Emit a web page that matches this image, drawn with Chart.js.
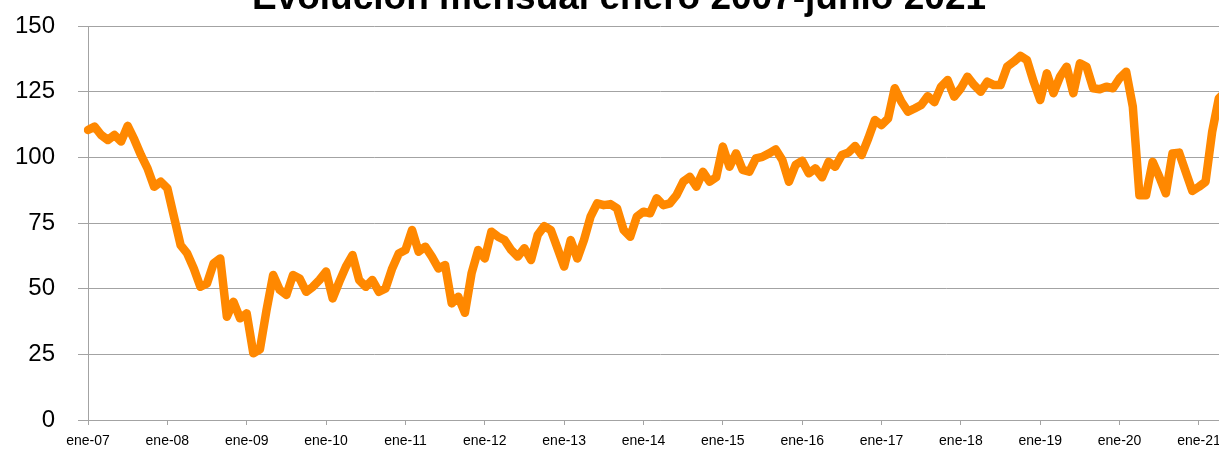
<!DOCTYPE html>
<html>
<head>
<meta charset="utf-8">
<script src="https://cdn.jsdelivr.net/npm/chart.js@4"></script>
<style>
  html, body { margin: 0; padding: 0; background: #fff; overflow: hidden; }
  #wrap { position: absolute; left: 0; top: 0; width: 1232px; height: 450px; }
  #title {
    position: absolute; left: 0; width: 1238px; top: -24px;
    text-align: center; font: bold 37px "Liberation Sans", Arial, sans-serif; color: #000;
    white-space: nowrap;
  }
</style>
</head>
<body>
<div id="wrap"><canvas id="chart"></canvas></div>
<div id="title">Evolución mensual enero 2007-junio 2021</div>
<script>
// meses y años del eje x
const months = ["ene", "feb", "mar", "abr", "may", "jun", "jul", "ago", "sep", "oct", "nov", "dic"];
const years = ["07", "08", "09", "10", "11", "12", "13", "14", "15", "16", "17", "18", "19", "20", "21"];

// valores mensuales
const v2007 = [110.4, 111.7, 108.5, 106.6, 108.5, 106, 112, 106.8, 100.9, 95.8, 88.8, 90.7];
const v2008 = [88.2, 77.4, 66.6, 63.4, 57.7, 50.7, 52, 59.6, 61.5, 39.3, 45, 38.7];
const v2009 = [40.6, 25.4, 26.9, 41.9, 55.2, 49.5, 47.6, 55.2, 53.9, 48.8, 50.7, 53.3];
const v2010 = [56.5, 46.3, 52.6, 58.4, 62.8, 53.3, 50.7, 53.3, 48.8, 50.1, 57.7, 63.4];
const v2011 = [64.7, 72.3, 64.1, 66, 62.2, 57.7, 59, 44.4, 46.9, 40.8, 55.8, 64.7];
const v2012 = [61.5, 71.7, 69.8, 68.5, 64.7, 62.2, 65.4, 60.9, 70.4, 73.8, 72.3, 65.4];
const v2013 = [58.4, 68.5, 61.5, 68.5, 77.4, 82.5, 81.8, 82.2, 80.6, 72.3, 69.8, 77.4];
const v2014 = [79.3, 78.7, 84.4, 81.8, 82.5, 85.6, 90.7, 92.6, 88.8, 94.5, 90.7, 92.4];
const v2015 = [104.1, 96.4, 101.5, 95.2, 94.5, 99.6, 100.2, 101.5, 103, 99, 90.7, 97.1];
const v2016 = [98.7, 93.9, 95.8, 92.4, 98.3, 96.4, 100.9, 101.8, 104.3, 100.9, 107.2, 114.2];
const v2017 = [112.3, 114.8, 126.3, 121.2, 117.4, 118.6, 119.9, 123.3, 121, 126.9, 129.4, 123.1];
const v2018 = [126.3, 130.7, 127.5, 125, 128.8, 127.5, 127.5, 134.5, 136.4, 138.6, 137, 128.8];
const v2019 = [121.8, 132, 124.4, 130.7, 134.5, 124.4, 135.8, 134.5, 126.3, 125.9, 126.9, 126.3];
const v2020 = [130.1, 132.6, 119.3, 85.6, 85.6, 98.3, 92.6, 86.3, 101.5, 101.8, 94.5, 87.2];
const v2021 = [88.8, 90.7, 109.7, 122.4, 125, 127];

const yTicks = [0, 25, 50, 75, 100, 125, 150];

const values = [].concat(v2007, v2008, v2009, v2010, v2011, v2012, v2013, v2014,
  v2015, v2016, v2017, v2018, v2019, v2020, v2021);

let labels = [];
years.forEach(y => months.forEach(m => labels.push(m + "-" + y)));
labels = labels.slice(0, values.length);

const gridColor = "#a3a3a3";

new Chart(document.getElementById("chart"), {
  type: "line",
  data: {
    labels: labels,
    datasets: [{
      data: values,
      borderColor: "#ff8800",
      borderWidth: 8.5,
      borderJoinStyle: "round",
      borderCapStyle: "round",
      pointRadius: 0,
      tension: 0,
      fill: false
    }]
  },
  options: {
    responsive: true,
    maintainAspectRatio: false,
    animation: false,
    layout: { padding: { left: 14, top: 26, right: 0, bottom: 0 } },
    plugins: { legend: { display: false }, tooltip: { enabled: false }, title: { display: false } },
    scales: {
      x: {
        offset: false,
        border: { color: gridColor, width: 1 },
        grid: { drawOnChartArea: false, color: gridColor, tickLength: 5 },
        afterFit: s => { s.height = 30; },
        ticks: {
          autoSkip: false,
          maxRotation: 0,
          padding: 8,
          color: "#000",
          font: { family: "Liberation Sans", size: 14 },
          callback: function (val, i) {
            return i % 12 === 0 ? labels[i] : null;
          }
        }
      },
      y: {
        min: 0,
        max: 150,
        afterBuildTicks: axis => { axis.ticks = yTicks.map(v => ({ value: v })); },
        afterFit: s => { s.width = 74; s.paddingTop = 0; s.paddingBottom = 0; },
        border: { color: gridColor, width: 1 },
        grid: { color: gridColor, tickLength: 10 },
        ticks: {
          padding: 23,
          color: "#000",
          font: { family: "Liberation Sans", size: 24 }
        }
      }
    }
  }
});
</script>
</body>
</html>
